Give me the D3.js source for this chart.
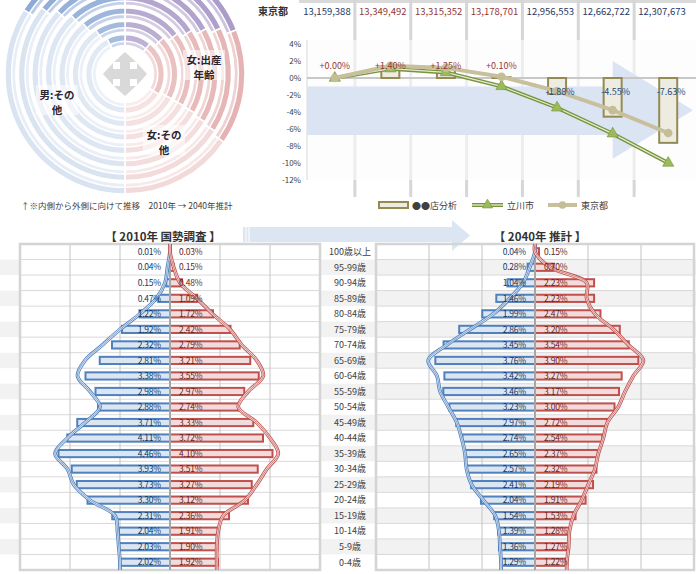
<!DOCTYPE html>
<html><head><meta charset="utf-8">
<script src="https://cdn.jsdelivr.net/npm/d3@7"></script>
<style>body{margin:0;background:#fff;}svg{display:block;font-family:"Noto Sans CJK JP","Noto Sans",sans-serif;}</style>
</head><body><svg id="c" width="696" height="574"></svg>
<script>
// ================= DATA =================
// Donut (inner ring = 2010, outer ring = 2040), shares in %
const donutYears   = [2010, 2015, 2020, 2025, 2030, 2035, 2040];
const femaleOld    = [11.0, 13.0, 14.6, 15.8, 16.9, 17.9, 19.0];
const femaleBirth  = [22.6, 19.8, 18.3, 17.3, 16.7, 16.1, 15.6];
const femaleOther  = [16.4, 17.2, 17.1, 16.9, 16.4, 16.0, 15.4];
const maleOther    = [42.5, 40.7, 39.0, 38.2, 36.9, 35.7, 34.0];
const maleOld      = [7.5, 9.3, 11.0, 11.8, 13.1, 14.3, 16.0];
const donutLabels  = [["男:その","他"], ["女:出産","年齢"], ["女:その","他"]];

// Line chart
const periods = ["2010", "2015", "2020", "2025", "2030", "2035", "2040"];
const tokyoPop = ["13,159,388", "13,349,492", "13,315,352", "13,178,701", "12,956,553", "12,662,722", "12,307,673"];
const storeChange = [0.00, 1.40, 1.25, 0.10, -1.88, -4.55, -7.63];
const tachikawaChange = [0.00, 1.10, 0.65, -0.98, -3.50, -6.55, -10.00];
const tokyoChange = [0.00, 1.44, 1.19, 0.15, -1.54, -3.78, -6.47];
const yTicks = [4, 2, 0, -2, -4, -6, -8, -10, -12];
const seriesNames = ["●●店分析", "立川市", "東京都"];

// Pyramids
const ages = ["100歳以上","95-99歳","90-94歳","85-89歳","80-84歳","75-79歳","70-74歳","65-69歳","60-64歳","55-59歳","50-54歳","45-49歳","40-44歳","35-39歳","30-34歳","25-29歳","20-24歳","15-19歳","10-14歳","5-9歳","0-4歳"];
const male2010   = [0.01,0.04,0.15,0.47,1.22,1.92,2.32,2.81,3.38,2.98,2.88,3.71,4.11,4.46,3.93,3.73,3.30,2.31,2.04,2.03,2.02];
const female2010 = [0.03,0.15,0.48,1.09,1.72,2.42,2.79,3.21,3.55,2.97,2.74,3.33,3.72,4.10,3.51,3.27,3.12,2.36,1.91,1.90,1.92];
const male2040   = [0.04,0.28,1.04,1.46,1.99,2.86,3.45,3.76,3.42,3.46,3.23,2.97,2.74,2.65,2.57,2.41,2.04,1.54,1.39,1.36,1.29];
const female2040 = [0.15,0.70,2.23,2.23,2.47,3.20,3.54,3.90,3.27,3.17,3.00,2.72,2.54,2.37,2.32,2.19,1.91,1.53,1.28,1.27,1.22];
// comparison outline curves
const maleRef2010   = [0.0,0.1,0.2,0.55,1.2,2.0,2.7,3.4,3.7,3.2,2.8,3.4,4.1,4.6,4.1,3.85,3.2,2.2,2.1,2.05,2.0];
const femaleRef2010 = [0.0,0.15,0.4,1.07,1.7,2.4,2.87,3.47,3.73,3.13,2.73,3.47,4.0,4.33,3.87,3.47,3.0,2.13,1.93,1.87,1.87];
const maleRef2040   = [0.0,0.2,0.45,0.95,1.57,2.45,3.33,4.03,3.7,3.58,3.27,2.95,2.77,2.64,2.58,2.39,1.95,1.5,1.36,1.32,1.28];
const femaleRef2040 = [0.0,0.57,1.95,1.95,2.26,2.96,3.52,4.09,3.71,3.4,3.14,2.73,2.58,2.39,2.26,2.01,1.76,1.45,1.3,1.27,1.2];
const pyramidTitles = ["【 2010年 国勢調査 】", "【 2040年 推計 】"];

// ================= DRAW =================
const svg = d3.select("#c");
const TXT = "#404040";

// ---------- Donut ----------
(function(){
  const cx = 125, cy = 74, r0 = 27, rOut = 121;
  const g = svg.append("g").attr("transform", `translate(${cx},${cy})`);
  const ringW = (rOut - r0) / donutYears.length;
  const keys = [
    {arr: femaleOld, col: "#ab9cc9"},
    {arr: femaleBirth, col: "#e5b3b3"},
    {arr: femaleOther, col: "#f3dada"},
    {arr: maleOther, col: "#d9e3f1"},
    {arr: maleOld, col: "#8eaad7"}
  ];
  const pie = d3.pie().sort(null).value(d => d.v);
  donutYears.forEach((yr, k) => {
    const inner = r0 + k * ringW + 1, outer = r0 + (k + 1) * ringW - 1;
    const data = keys.map(kk => ({v: kk.arr[k], col: kk.col}));
    const arcs = pie(data);
    const op = 0.78 + 0.22 * k / (donutYears.length - 1);
    g.selectAll(null).data(arcs).enter().append("path")
      .attr("d", d3.arc().innerRadius(inner).outerRadius(outer))
      .attr("fill", d => d.data.col).attr("fill-opacity", op)
      .attr("stroke", "#fff").attr("stroke-width", 1.5);
    g.selectAll(null).data(arcs).enter().append("path")
      .attr("d", d3.arc().innerRadius(inner + 0.5).outerRadius(inner + (outer - inner) * 0.42))
      .attr("fill", "#fff").attr("fill-opacity", 0.4)
      .attr("stroke", "#fff").attr("stroke-width", 1.5);
  });
  g.append("circle").attr("r", r0).attr("fill", "#fff");
  // four-way arrow icon
  const p = [[5,-5],[12,-5],[12,-11],[22,0],[12,11],[12,5],[5,5],[5,12],[11,12],[0,22],[-11,12],[-5,12],[-5,5],[-12,5],[-12,11],[-22,0],[-12,-11],[-12,-5],[-5,-5],[-5,-12],[-11,-12],[0,-22],[11,-12],[5,-12]];
  g.append("path").attr("d", "M" + p.map(q => q.join(",")).join("L") + "Z").attr("fill", "#d9d9d9");

  const lblPos = [[57, 95], [204, 60], [164, 135]];
  donutLabels.forEach((lines, i) => {
    const [x, y] = lblPos[i];
    svg.append("rect").attr("x", x - 21).attr("y", y - 10).attr("width", 42).attr("height", 30)
      .attr("fill", "#fff").attr("fill-opacity", 0.55);
    lines.forEach((t, j) => {
      svg.append("text").attr("x", x).attr("y", y + 4 + j * 14.5).attr("text-anchor", "middle")
        .attr("font-size", 10.5).attr("font-weight", "bold").attr("fill", "#2a2530").text(t);
    });
  });
  const fn = svg.append("text").attr("x", 21).attr("y", 209).attr("font-size", 8.5).attr("fill", TXT);
  fn.append("tspan").attr("fill", "#1f497d").text("↑");
  fn.append("tspan").text("※内側から外側に向けて推移　2010年 → 2040年推計");
})();

// ---------- Line chart ----------
(function(){
  const hx = d3.scaleBand().domain(periods).range([299, 690]);
  const x = d3.scaleBand().domain(periods).range([307, 696]);
  const y = d3.scaleLinear().domain([-12, 4]).range([180, 44]);
  const top = 40, bot = 180, left = 307, right = 696;

  svg.append("line").attr("x1", 299).attr("x2", 696).attr("y1", 1.5).attr("y2", 1.5)
    .attr("stroke", "#d9d9d9").attr("stroke-width", 3);
  periods.slice(1).forEach(p => {
    svg.append("line").attr("x1", hx(p)).attr("x2", hx(p)).attr("y1", 0).attr("y2", 197)
      .attr("stroke", "#d6d6d6").attr("stroke-width", 3);
  });
  svg.append("text").attr("x", 258).attr("y", 14.5).attr("font-size", 10).attr("font-weight", "bold")
    .attr("fill", "#333").text("東京都");
  tokyoPop.forEach((t, i) => {
    svg.append("text").attr("x", hx(periods[i]) + hx.bandwidth() / 2).attr("y", 14.5)
      .attr("text-anchor", "middle").attr("font-size", 9.5)
      .attr("fill", tokyoChange[i] > 0 ? "#953735" : "#1f3864").text(t);
  });

  svg.append("rect").attr("x", left).attr("y", top).attr("width", right - left).attr("height", bot - top)
    .attr("fill", "#fcfcfc").attr("fill-opacity", 0.62);
  svg.append("line").attr("x1", left).attr("x2", left).attr("y1", top).attr("y2", bot)
    .attr("stroke", "#d9d9d9");

  // big background arrow
  const shaftEnd = x(periods[5]) + x.bandwidth() / 2;
  const tipX = right - 3;
  svg.append("path").attr("d",
    `M${left},${y(-1.0)}L${shaftEnd},${y(-1.0)}L${shaftEnd},${y(2.0)}L${tipX},${y(-3.8)}L${shaftEnd},${y(-9.5)}L${shaftEnd},${y(-6.7)}L${left},${y(-6.7)}Z`)
    .attr("fill", "#dae4f3");

  svg.append("line").attr("x1", left).attr("x2", right).attr("y1", y(0)).attr("y2", y(0))
    .attr("stroke", "#c8c8c8").attr("stroke-width", 2);

  yTicks.forEach(t => {
    svg.append("text").attr("x", 301).attr("y", y(t) + 3).attr("text-anchor", "end")
      .attr("font-size", 8).attr("fill", TXT).text(t + "%");
  });

  const bw = 18;
  storeChange.forEach((v, i) => {
    const cxp = x(periods[i]) + x.bandwidth() / 2;
    if (Math.abs(v) > 0.001) {
      svg.append("rect").attr("x", cxp - bw / 2).attr("y", y(Math.max(v, 0)))
        .attr("width", bw).attr("height", Math.abs(y(v) - y(0)))
        .attr("fill", "#eeece1").attr("stroke", "#948a54").attr("stroke-width", 2);
    }
  });

  const line = d3.line().x((d, i) => x(periods[i]) + x.bandwidth() / 2).y(d => y(d));
  svg.append("path").attr("d", line(tachikawaChange)).attr("fill", "none")
    .attr("stroke", "#77933c").attr("stroke-width", 4);
  svg.append("path").attr("d", line(tachikawaChange)).attr("fill", "none")
    .attr("stroke", "#e4edd2").attr("stroke-width", 1.3);
  tachikawaChange.forEach((v, i) => {
    svg.append("path").attr("d", d3.symbol(d3.symbolTriangle, 55)())
      .attr("transform", `translate(${x(periods[i]) + x.bandwidth() / 2},${y(v)})`)
      .attr("fill", "#9bbb59").attr("stroke", "#77933c").attr("stroke-width", 0.6);
  });
  svg.append("path").attr("d", line(tokyoChange)).attr("fill", "none")
    .attr("stroke", "#c8c09c").attr("stroke-width", 4);
  tokyoChange.forEach((v, i) => {
    svg.append("circle").attr("cx", x(periods[i]) + x.bandwidth() / 2).attr("cy", y(v)).attr("r", 4.3)
      .attr("fill", "#c4bd97");
  });

  storeChange.forEach((v, i) => {
    const cxp = x(periods[i]) + x.bandwidth() / 2;
    const pos = v >= 0;
    svg.append("text").attr("x", cxp + (pos ? 0 : 3)).attr("y", pos ? y(0) - 9.5 : y(0) + 17)
      .attr("text-anchor", "middle").attr("font-size", 9)
      .attr("fill", pos ? "#953735" : "#1f497d")
      .text((pos ? "+" : "") + v.toFixed(2) + "%");
  });

  // legend
  const ly = 205;
  svg.append("rect").attr("x", 379).attr("y", ly - 3).attr("width", 29).attr("height", 6)
    .attr("fill", "#eeece1").attr("stroke", "#948a54").attr("stroke-width", 2);
  svg.append("text").attr("x", 412).attr("y", ly + 3.5).attr("font-size", 9).attr("fill", TXT).text(seriesNames[0]);
  svg.append("line").attr("x1", 472).attr("x2", 503).attr("y1", ly).attr("y2", ly).attr("stroke", "#77933c").attr("stroke-width", 4);
  svg.append("line").attr("x1", 472).attr("x2", 503).attr("y1", ly).attr("y2", ly).attr("stroke", "#e4edd2").attr("stroke-width", 1.3);
  svg.append("path").attr("d", d3.symbol(d3.symbolTriangle, 45)()).attr("transform", `translate(487.5,${ly})`)
    .attr("fill", "#9bbb59").attr("stroke", "#77933c").attr("stroke-width", 0.6);
  svg.append("text").attr("x", 507).attr("y", ly + 3.5).attr("font-size", 9).attr("fill", TXT).text(seriesNames[1]);
  svg.append("line").attr("x1", 548).attr("x2", 577).attr("y1", ly).attr("y2", ly).attr("stroke", "#c8c09c").attr("stroke-width", 4);
  svg.append("circle").attr("cx", 562.5).attr("cy", ly).attr("r", 3.8).attr("fill", "#c4bd97");
  svg.append("text").attr("x", 581).attr("y", ly + 3.5).attr("font-size", 9).attr("fill", TXT).text(seriesNames[2]);
})();

// ---------- Pyramids ----------
(function(){
  const yb = d3.scaleBand().domain(ages).range([244, 570]);
  const bh = yb.bandwidth();
  // row stripes
  ages.forEach((a, i) => {
    if (i % 2 === 1) svg.append("rect").attr("x", 0).attr("y", yb(a)).attr("width", 696).attr("height", bh).attr("fill", "#f2f2f2");
  });
  // title arrow
  svg.append("path").attr("d", "M243,227L452,227L452,220L470,235.5L452,251L452,242L243,242Z").attr("fill", "#dce6f2");
  svg.append("line").attr("x1", 246).attr("x2", 246).attr("y1", 227).attr("y2", 242).attr("stroke", "#fff").attr("stroke-width", 1);
  svg.append("line").attr("x1", 249).attr("x2", 249).attr("y1", 227).attr("y2", 242).attr("stroke", "#fff").attr("stroke-width", 1);

  const panels = [
    {x: d3.scaleLinear().domain([-6, 6]).range([20, 320]), m: male2010, f: female2010, mr: maleRef2010, fr: femaleRef2010, title: pyramidTitles[0], tx: 163, bg: true},
    {x: d3.scaleLinear().domain([-6, 6]).range([376, 694]), m: male2040, f: female2040, mr: maleRef2040, fr: femaleRef2040, title: pyramidTitles[1], tx: 540, bg: false}
  ];
  panels.forEach(P => {
    const x = P.x, x0 = x(0), L = x(-6), R = x(6), T = 244, B = 570;
    if (P.bg) svg.append("rect").attr("x", L).attr("y", T).attr("width", R - L).attr("height", B - T).attr("fill", "#fff");
    ages.slice(1).forEach(a => {
      svg.append("line").attr("x1", L).attr("x2", R).attr("y1", yb(a)).attr("y2", yb(a)).attr("stroke", "#d9d9d9");
    });
    [-4, -2, 2, 4].forEach(t => {
      svg.append("line").attr("x1", x(t)).attr("x2", x(t)).attr("y1", T).attr("y2", B).attr("stroke", "#c4c4c4");
    });
    svg.append("rect").attr("x", L).attr("y", T).attr("width", R - L).attr("height", B - T)
      .attr("fill", "none").attr("stroke", "#d4d4d4").attr("stroke-width", 2.5);

    ages.forEach((a, i) => {
      const cy = yb(a) + bh / 2;
      svg.append("rect").attr("x", x(-P.m[i])).attr("y", cy - 3.6).attr("width", x0 - x(-P.m[i])).attr("height", 7.2)
        .attr("fill", "#dce6f2").attr("stroke", "#4f81bd").attr("stroke-width", 2);
      svg.append("rect").attr("x", x0).attr("y", cy - 3.6).attr("width", x(P.f[i]) - x0).attr("height", 7.2)
        .attr("fill", "#f2dcdb").attr("stroke", "#c0504d").attr("stroke-width", 2);
    });
    svg.append("line").attr("x1", x0).attr("x2", x0).attr("y1", T).attr("y2", B).attr("stroke", "#a6a6a6").attr("stroke-width", 2);

    const mk = (vals, sign) => {
      const pts = [[x(0), T]].concat(vals.map((v, i) => [x(sign * v), yb(ages[i]) + bh / 2]));
      pts.push([x(sign * vals[vals.length - 1]), B]);
      return d3.line().curve(d3.curveCatmullRom.alpha(0.5))(pts);
    };
    [[P.mr, -1, "#4f81bd"], [P.fr, 1, "#c0504d"]].forEach(([vals, s, col]) => {
      const d = mk(vals, s);
      svg.append("path").attr("d", d).attr("fill", "none").attr("stroke", col).attr("stroke-width", 3.8).attr("stroke-opacity", 0.95);
      svg.append("path").attr("d", d).attr("fill", "none").attr("stroke", "#fff").attr("stroke-width", 2).attr("stroke-opacity", 0.85);
      svg.append("path").attr("d", d).attr("fill", "none").attr("stroke", col).attr("stroke-width", 0.7);
    });

    ages.forEach((a, i) => {
      const cy = yb(a) + bh / 2;
      svg.append("text").attr("x", x0 - 9).attr("y", cy + 3.2).attr("text-anchor", "end")
        .attr("font-size", 8.5).attr("letter-spacing", -0.2).attr("fill", "#17375e").text(P.m[i].toFixed(2) + "%");
      svg.append("text").attr("x", x0 + 9).attr("y", cy + 3.2).attr("text-anchor", "start")
        .attr("font-size", 8.5).attr("letter-spacing", -0.2).attr("fill", "#632523").text(P.f[i].toFixed(2) + "%");
    });
    svg.append("text").attr("x", P.tx).attr("y", 241).attr("text-anchor", "middle").attr("font-size", 11.5)
      .attr("font-weight", "bold").attr("fill", "#333").text(P.title);
  });

  ages.forEach(a => {
    svg.append("text").attr("x", 350).attr("y", yb(a) + bh / 2 + 3.3).attr("text-anchor", "middle")
      .attr("font-size", 9).attr("fill", TXT).text(a);
  });
})();
</script></body></html>
